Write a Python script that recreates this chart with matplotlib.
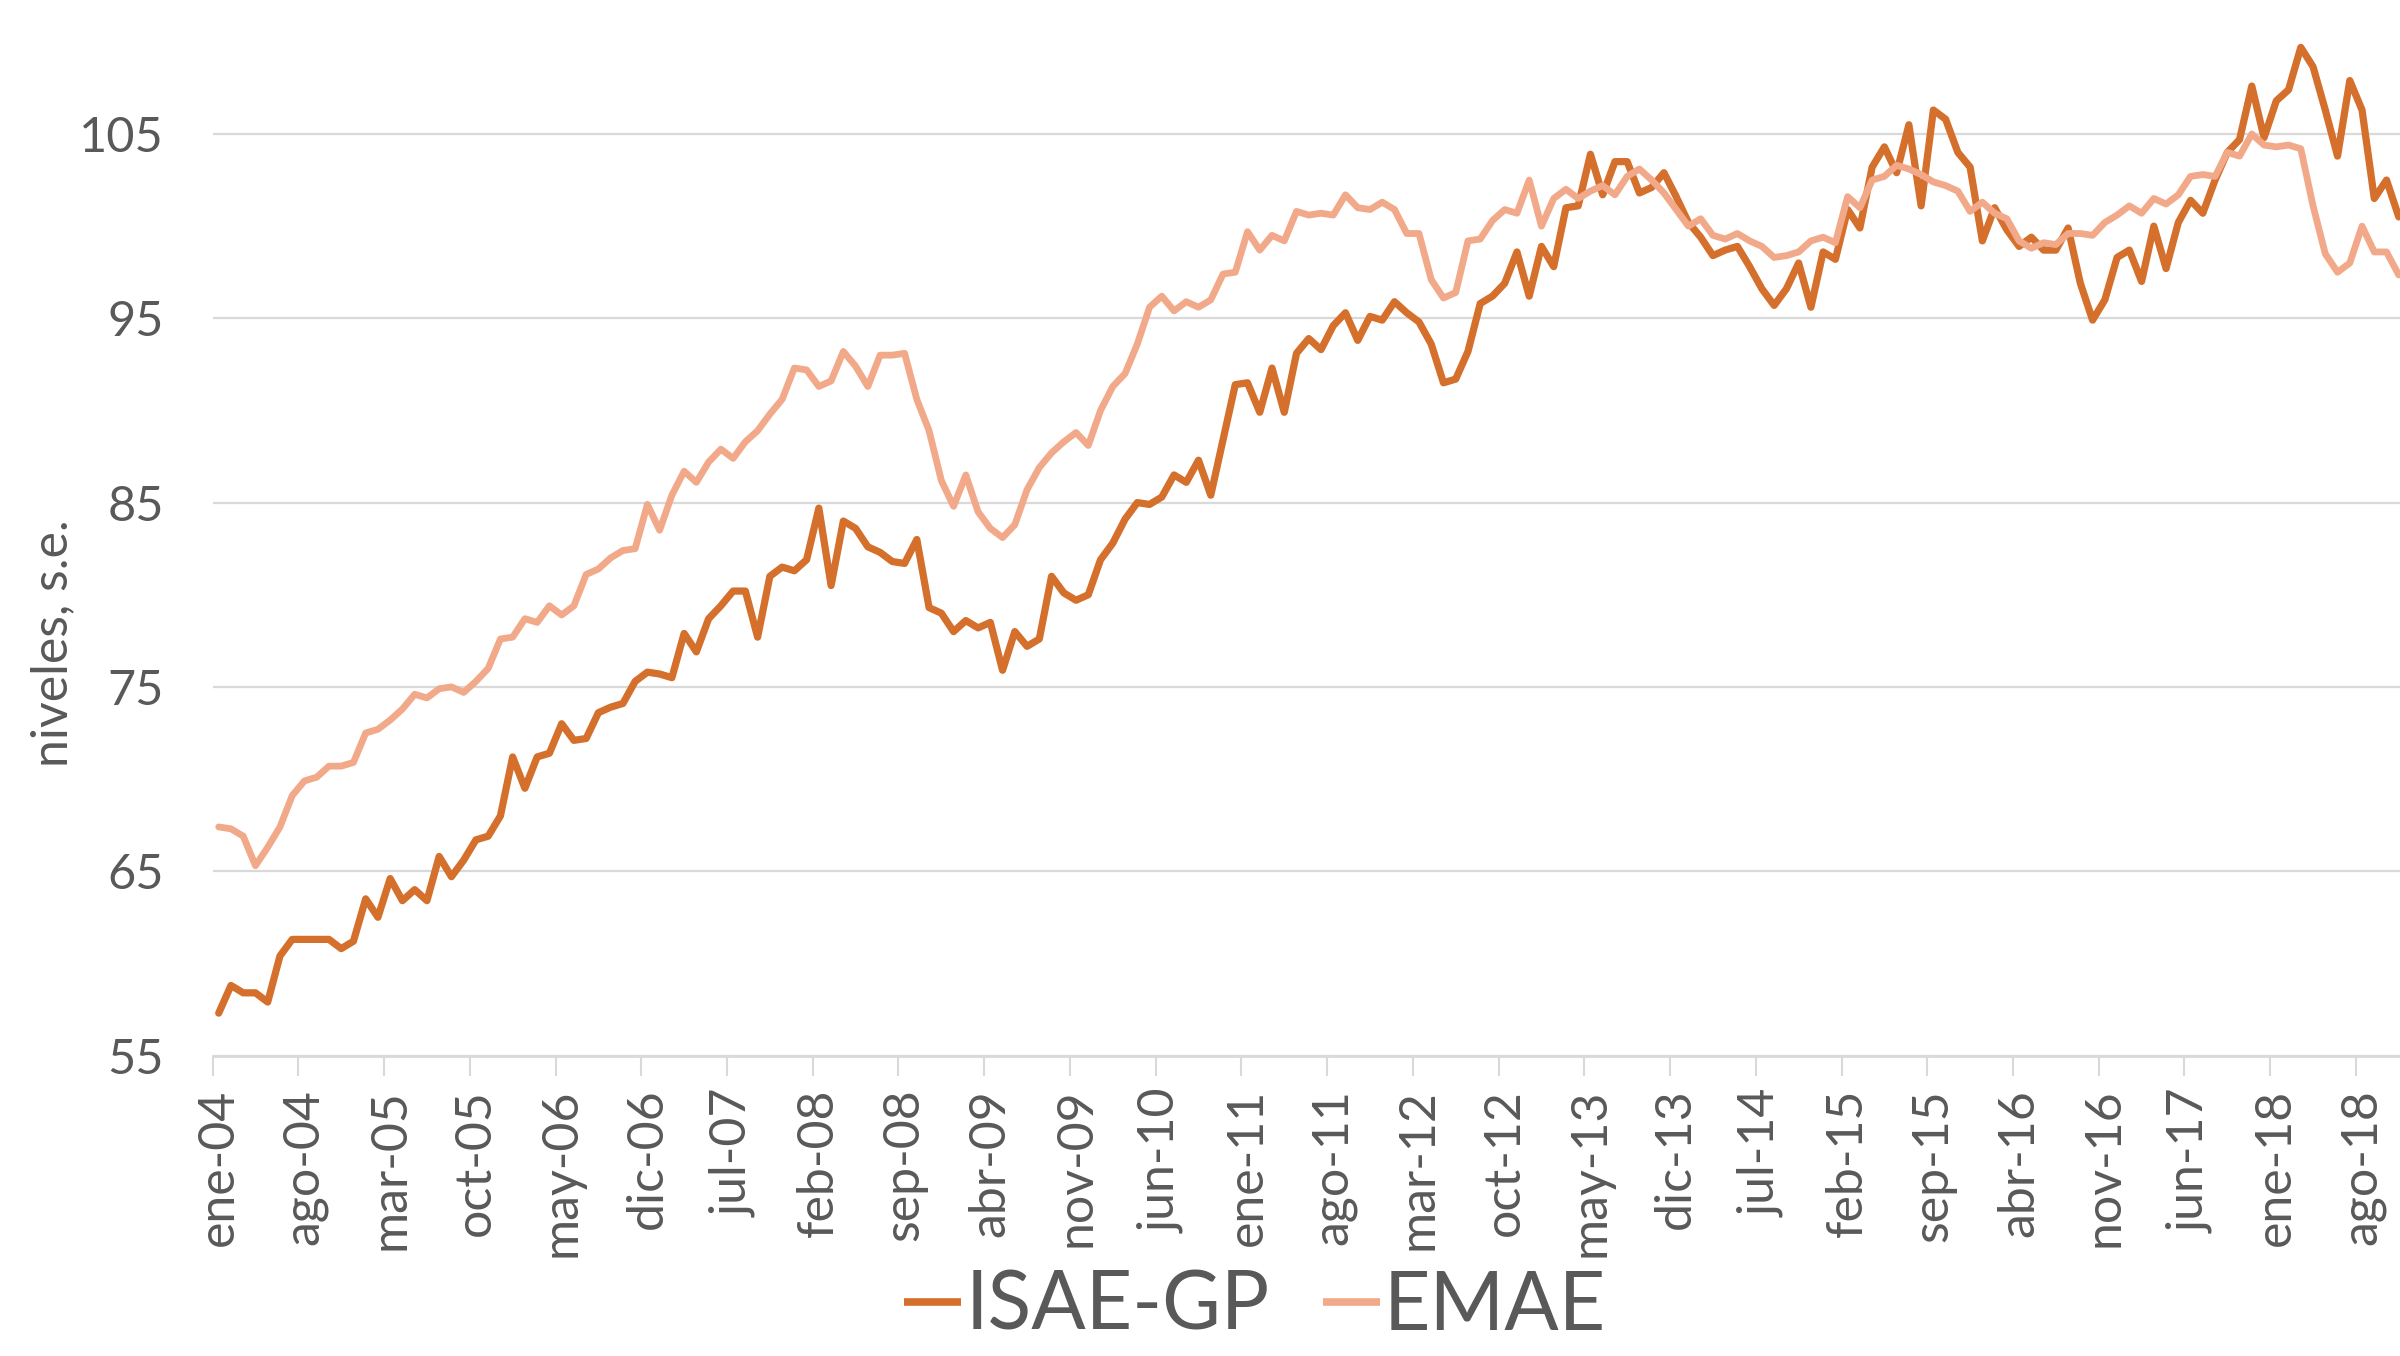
import matplotlib
matplotlib.use("Agg")
import matplotlib.pyplot as plt
import numpy as np

plt.rcParams['font.family'] = ['Lato', 'DejaVu Sans']

# Monthly series, ene-04 ... nov-18
isae_gp = [
    57.3, 58.8, 58.4, 58.4, 57.9, 60.4, 61.3, 61.3, 61.3, 61.3, 60.8, 61.2,
    63.5, 62.5, 64.6, 63.4, 64.0, 63.4, 65.8, 64.7, 65.6, 66.7, 66.9, 68.0,
    71.2, 69.5, 71.2, 71.4, 73.0, 72.1, 72.2, 73.6, 73.9, 74.1, 75.3, 75.8,
    75.7, 75.5, 77.9, 76.9, 78.7, 79.4, 80.2, 80.2, 77.7, 81.0, 81.5, 81.3,
    81.9, 84.7, 80.5, 84.0, 83.6, 82.6, 82.3, 81.8, 81.7, 83.0, 79.3, 79.0,
    78.0, 78.6, 78.2, 78.5, 75.9, 78.0, 77.2, 77.6, 81.0, 80.1, 79.7, 80.0,
    81.9, 82.8, 84.1, 85.0, 84.9, 85.3, 86.5, 86.1, 87.3, 85.4, 88.4, 91.4,
    91.5, 89.9, 92.3, 89.9, 93.1, 93.9, 93.3, 94.6, 95.3, 93.8, 95.1, 94.9,
    95.9, 95.3, 94.8, 93.6, 91.5, 91.7, 93.2, 95.8, 96.2, 96.9, 98.6, 96.2,
    98.9, 97.8, 101.0, 101.1, 103.9, 101.7, 103.5, 103.5, 101.8, 102.1, 102.9, 101.6,
    100.2, 99.4, 98.4, 98.7, 98.9, 97.8, 96.6, 95.7, 96.6, 98.0, 95.6, 98.6,
    98.2, 100.9, 99.9, 103.2, 104.3, 102.9, 105.5, 101.1, 106.3, 105.8, 104.0, 103.2,
    99.2, 101.0, 99.8, 98.9, 99.4, 98.7, 98.7, 99.9, 96.9, 94.9, 96.0, 98.3,
    98.7, 97.0, 100.0, 97.7, 100.2, 101.4, 100.7, 102.5, 104.0, 104.7, 107.6, 104.8,
    106.8, 107.4, 109.7, 108.65, 106.3, 103.8, 107.9, 106.3, 101.5, 102.5, 100.5,
]

emae = [
    67.4, 67.3, 66.9, 65.3, 66.3, 67.4, 69.1, 69.9, 70.1, 70.7, 70.7, 70.9,
    72.5, 72.7, 73.2, 73.8, 74.6, 74.4, 74.9, 75.0, 74.7, 75.3, 76.0, 77.6,
    77.7, 78.7, 78.5, 79.4, 78.9, 79.4, 81.1, 81.4, 82.0, 82.4, 82.5, 84.9,
    83.5, 85.4, 86.7, 86.1, 87.2, 87.9, 87.4, 88.3, 88.9, 89.8, 90.6, 92.3,
    92.2, 91.3, 91.6, 93.2, 92.4, 91.3, 93.0, 93.0, 93.1, 90.6, 88.9, 86.2,
    84.8, 86.5, 84.5, 83.6, 83.1, 83.8, 85.7, 86.9, 87.7, 88.3, 88.8, 88.1,
    90.0, 91.3, 92.0, 93.6, 95.6, 96.2, 95.4, 95.9, 95.6, 96.0, 97.4, 97.5,
    99.7, 98.7, 99.5, 99.2, 100.8, 100.6, 100.7, 100.6, 101.7, 101.0, 100.9, 101.3,
    100.9, 99.6, 99.6, 97.1, 96.1, 96.4, 99.2, 99.3, 100.3, 100.9, 100.7, 102.5,
    100.0, 101.5, 102.0, 101.5, 101.9, 102.2, 101.7, 102.7, 103.1, 102.5, 101.8, 100.9,
    100.0, 100.4, 99.5, 99.3, 99.6, 99.2, 98.9, 98.3, 98.4, 98.6, 99.2, 99.4,
    99.1, 101.6, 101.0, 102.5, 102.7, 103.3, 103.1, 102.8, 102.4, 102.2, 101.9, 100.8,
    101.3, 100.7, 100.4, 99.2, 98.8, 99.1, 99.0, 99.6, 99.6, 99.5, 100.2, 100.6,
    101.1, 100.7, 101.5, 101.2, 101.7, 102.7, 102.8, 102.7, 104.0, 103.8, 105.0, 104.4,
    104.3, 104.4, 104.2, 101.1, 98.5, 97.5, 98.0, 100.0, 98.6, 98.6, 97.35,
]

tick_labels = ["ene-04", "ago-04", "mar-05", "oct-05", "may-06", "dic-06", "jul-07",
               "feb-08", "sep-08", "abr-09", "nov-09", "jun-10", "ene-11", "ago-11",
               "mar-12", "oct-12", "may-13", "dic-13", "jul-14", "feb-15", "sep-15",
               "abr-16", "nov-16", "jun-17", "ene-18", "ago-18"]
y_ticks = [55, 65, 75, 85, 95, 105]
series_names = ["ISAE-GP", "EMAE"]

W, H = 2400, 1356
fig = plt.figure(figsize=(W / 100, H / 100), dpi=100)
left_px, bottom_px = 212.6, 1055.5
ax = fig.add_axes([left_px / W, (H - bottom_px) / H, 1 - left_px / W, bottom_px / H])

c_isae = "#D46F2C"
c_emae = "#F2A98A"
grid_c = "#D9D9D9"
txt_c = "#595959"

x = np.arange(len(isae_gp))
ax.plot(x, isae_gp, color=c_isae, lw=5.2, solid_joinstyle="round",
        solid_capstyle="round", label=series_names[0], zorder=3)
ax.plot(np.arange(len(emae)), emae, color=c_emae, lw=4.9, solid_joinstyle="round",
        solid_capstyle="round", label=series_names[1], zorder=4)

ax.set_xlim(-0.5, 178.1)
ax.set_ylim(55, 112.27)

for s in ["top", "right", "left"]:
    ax.spines[s].set_visible(False)
ax.spines["bottom"].set_color(grid_c)
ax.spines["bottom"].set_linewidth(2.0)

ax.set_yticks(y_ticks)
ax.set_yticklabels([str(v) for v in y_ticks])
ax.yaxis.grid(True, color=grid_c, lw=1.6)
ax.set_axisbelow(True)
ax.tick_params(axis="y", length=0, pad=35, labelsize=35, labelcolor=txt_c)

major = [7 * k for k in range(len(tick_labels))]
ax.set_xticks(major)
ax.set_xticklabels(tick_labels, rotation=90, va="top", ha="center")
ax.tick_params(axis="x", which="major", length=0, pad=24, labelsize=36, labelcolor=txt_c)
ax.set_xticks([m - 0.5 for m in major], minor=True)
ax.tick_params(axis="x", which="minor", length=14.4, width=1.5, color=grid_c)

fig.text(53 / W, 1 - 643 / H, "niveles, s.e.", rotation=90, ha="center", va="center",
         fontsize=36, color=txt_c)

leg = fig.legend(loc="center", bbox_to_anchor=(1255 / W, 1 - 1307 / H), ncol=2,
                 frameon=False, fontsize=58, handlelength=0.71, handletextpad=0.05,
                 columnspacing=0.66, borderpad=0)
for t in leg.get_texts():
    t.set_color(txt_c)
for h in leg.get_lines():
    h.set_linewidth(5.5)
    h.set_solid_capstyle("butt")

fig.savefig("out.png", dpi=100)
